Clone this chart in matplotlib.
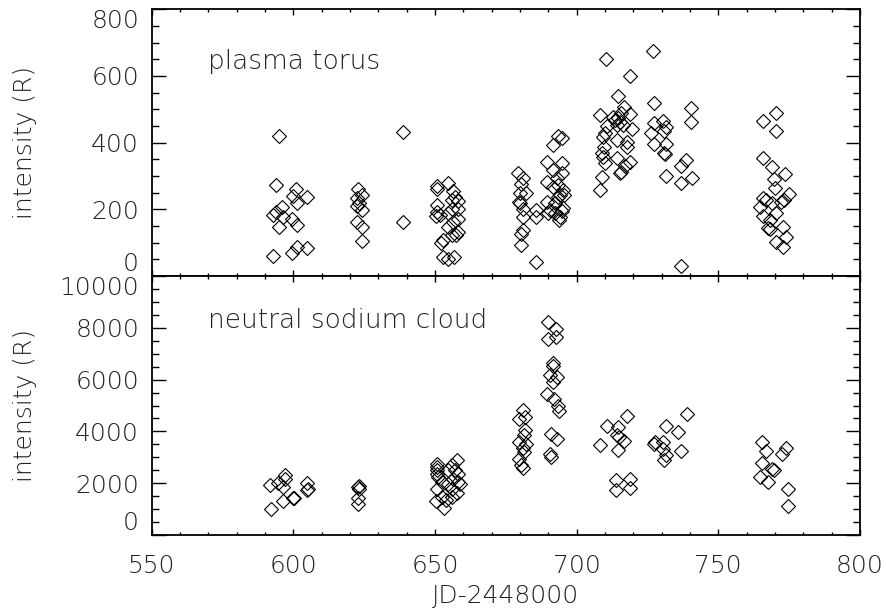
import numpy as np
import matplotlib
matplotlib.use("Agg")
import matplotlib.pyplot as plt
from matplotlib.ticker import MultipleLocator

# plasma torus intensity (R) vs JD-2448000
torus_jd = [595.0, 593.9, 600.9, 600.0, 604.9, 601.2, 595.9, 593.9, 592.7, 596.4,
            595.0, 599.7, 601.2, 601.2, 599.7, 604.9, 592.7,
            622.9, 624.1, 622.5, 623.3, 622.5, 624.1, 622.5, 624.1, 624.1,
            638.8, 638.8,
            650.8, 650.8, 654.7, 656.4, 657.0, 655.9, 658.2, 650.8, 650.6, 651.7,
            655.9, 658.2, 654.7, 658.2, 654.7, 656.4, 658.2, 657.4, 655.9, 652.9,
            652.0, 652.7, 654.7, 656.7, 650.3,
            679.4, 681.1, 680.5, 680.0, 682.1, 679.7, 680.0, 681.1, 680.9, 681.1,
            680.5, 680.5, 685.8, 685.8, 685.8,
            689.6, 694.7, 691.7, 695.0, 691.7, 693.5, 694.7, 689.6, 692.9, 693.5,
            691.5, 695.2, 694.1, 693.5, 695.5, 689.6, 692.3, 695.2, 690.5, 692.3,
            690.0, 694.1, 693.8, 695.0,
            710.5, 719.0, 714.6, 708.4, 716.7, 718.8, 712.9, 714.6, 715.2, 714.1,
            716.5, 710.8, 719.4, 709.9, 709.3, 714.3, 717.8, 717.6, 709.6, 708.8,
            709.2, 709.9, 714.3, 718.8, 716.9, 715.8, 715.2, 708.8, 708.4, 715.8,
            713.4,
            726.8, 727.3, 740.5, 740.5, 727.3, 730.6, 731.7, 730.8, 726.4, 727.3,
            731.7, 731.1, 730.8, 731.7, 737.0, 738.5, 737.0, 740.8, 737.0,
            765.8, 770.5, 770.5, 765.8, 768.8, 773.5, 769.6, 769.9, 775.0, 765.8,
            766.7, 772.3, 773.1, 764.6, 768.8, 765.8, 770.3, 768.4, 767.6, 768.2,
            772.9, 773.8, 770.5, 772.9]
torus_int = [420, 273, 260, 240, 238, 218, 208, 193, 183, 178,
             148, 170, 153, 88, 70, 85, 60,
             260, 243, 233, 218, 210, 198, 163, 146, 106,
             433, 163,
             270, 260, 278, 256, 238, 228, 226, 213, 193, 183,
             200, 200, 188, 170, 148, 163, 133, 123, 123, 108,
             98, 58, 50, 56, 180,
             308, 293, 276, 250, 248, 223, 218, 200, 178, 138,
             126, 93, 198, 178, 43,
             343, 340, 318, 310, 393, 420, 413, 283, 293, 273,
             268, 258, 243, 238, 243, 223, 218, 203, 198, 188,
             188, 178, 168, 196,
             650, 600, 540, 483, 506, 486, 478, 473, 463, 453,
             453, 450, 440, 428, 418, 408, 403, 388, 388, 368,
             358, 338, 353, 343, 330, 313, 308, 298, 258, 488,
             468,
             676, 518, 503, 463, 460, 466, 448, 436, 428, 396,
             396, 366, 368, 300, 330, 348, 280, 295, 30,
             466, 488, 436, 353, 328, 306, 290, 263, 245, 233,
             228, 223, 228, 206, 218, 180, 188, 168, 143, 140,
             148, 116, 103, 88]

# neutral sodium cloud intensity (R) vs JD-2448000
sodium_jd = [591.7, 592.0, 596.2, 594.7, 597.0, 597.0, 596.2, 600.0, 600.3, 604.9,
             604.9, 605.3,
             623.3, 623.3, 622.9, 622.9, 622.9,
             650.8, 650.8, 650.8, 650.6, 651.1, 652.3, 657.9, 655.9, 658.2, 656.4,
             658.2, 654.7, 650.8, 655.9, 652.3, 657.6, 655.9, 650.3, 653.1, 653.8,
             658.8, 657.0, 654.7,
             680.9, 679.7, 681.7, 681.7, 681.4, 679.7, 682.3, 681.1, 681.4, 679.7,
             680.5, 680.9,
             690.0, 692.7, 692.7, 690.0, 691.7, 691.5, 690.6, 692.9, 691.7, 689.7,
             692.0, 693.5, 693.8, 690.8, 692.9, 690.6, 690.8,
             710.8, 714.6, 717.6, 714.1, 715.0, 716.7, 708.4, 714.6, 713.8, 718.8,
             713.8, 718.8,
             727.6, 727.2, 730.5, 731.5, 731.7, 730.8, 730.5, 735.8, 738.8, 736.7,
             765.6, 766.8, 773.8, 772.6, 765.6, 768.8, 769.6, 764.6, 767.6, 774.6,
             774.6]
sodium_int = [1923, 988, 1320, 2013, 2308, 2180, 1859, 1436, 1420, 2013,
              1731, 1795,
              1885, 1795, 1859, 1410, 1192,
              2756, 2628, 2500, 2372, 2244, 2051, 2885, 2692, 2372, 2180,
              2051, 1987, 1757, 1795, 1474, 1628, 1449, 1320, 1026, 1346,
              1987, 2500, 2500,
              4808, 4462, 4552, 4039, 3846, 3590, 3526, 3359, 3205, 2949,
              2692, 2603,
              8243, 7949, 7654, 7564, 6628, 6538, 6192, 6115, 5897, 5449,
              5257, 4962, 4782, 3910, 3718, 3115, 3026,
              4192, 4167, 4577, 3846, 3782, 3628, 3462, 3295, 2115, 2180,
              1731, 1821,
              3590, 3526, 3590, 4192, 3077, 2910, 3333, 3974, 4654, 3244,
              3590, 3244, 3372, 3115, 2782, 2564, 2526, 2244, 2051, 1769,
              1115]

torus_ticks = [0, 200, 400, 600, 800]
sodium_ticks = [0, 2000, 4000, 6000, 8000, 10000]
jd_ticks = [550, 600, 650, 700, 750, 800]

plt.rcParams['font.family'] = ['DejaVu Sans']
plt.rcParams['font.size'] = 18
plt.rcParams['font.weight'] = 'light'
plt.rcParams['axes.labelweight'] = 'light'

fig = plt.figure(figsize=(8.86, 6.09), dpi=100)
ax1 = fig.add_axes([0.1712, 0.5468, 0.7994, 0.4379])
ax2 = fig.add_axes([0.1712, 0.1215, 0.7994, 0.4253])

for ax, x, y in ((ax1, torus_jd, torus_int), (ax2, sodium_jd, sodium_int)):
    ax.plot(x, y, linestyle='none', marker='D', ms=7.5, mfc='none',
            mec='black', mew=0.8)
    ax.set_xlim(550, 800)
    ax.set_xticks(jd_ticks)
    ax.xaxis.set_minor_locator(MultipleLocator(10))
    ax.tick_params(which='both', direction='in', top=True, right=True,
                   width=1.0, color='black', labelcolor='#222222')
    ax.tick_params(axis='y', which='major', length=10, pad=9)
    ax.tick_params(axis='y', which='minor', length=5)
    ax.tick_params(axis='x', which='major', length=4, pad=14)
    ax.tick_params(axis='x', which='minor', length=2)
    for s in ax.spines.values():
        s.set_linewidth(1.3)
    ax.set_ylabel('intensity (R)', color='#222222', va='center')
    ax.yaxis.set_label_coords(-0.179, 0.5)

ax1.set_ylim(0, 800)
ax1.set_yticks(torus_ticks)
ax1.yaxis.set_minor_locator(MultipleLocator(50))
ax1.tick_params(axis='x', labelbottom=False)
ax1.text(0.0795, 0.806, 'plasma torus', transform=ax1.transAxes,
         va='center', ha='left', color='#222222', fontsize=19)

ax2.set_ylim(0, 10000)
ax2.set_yticks(sodium_ticks)
ax2.yaxis.set_minor_locator(MultipleLocator(500))
ax2.text(0.0795, 0.83, 'neutral sodium cloud', transform=ax2.transAxes,
         va='center', ha='left', color='#222222', fontsize=19)
ax2.set_xlabel('JD-2448000', color='#222222', labelpad=4)

# edge labels sit inside their panel, as in the original
for ax in (ax1, ax2):
    labs = ax.get_yticklabels()
    labs[0].set_verticalalignment('bottom')
    labs[-1].set_verticalalignment('top')

plt.savefig('out.png', dpi=100)
